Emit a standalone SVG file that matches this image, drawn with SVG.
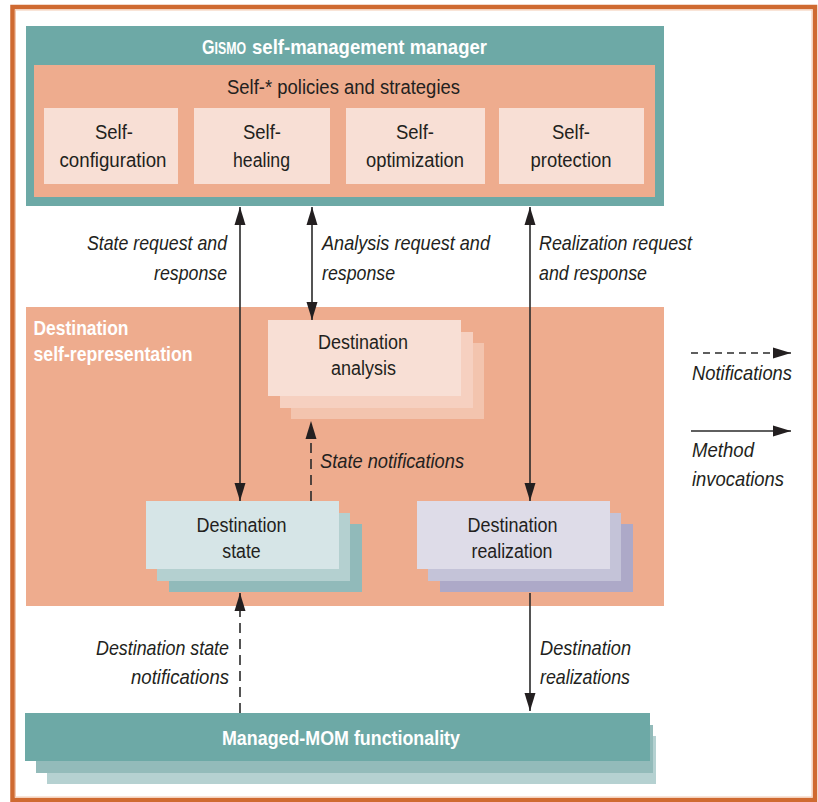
<svg xmlns="http://www.w3.org/2000/svg" width="818" height="802" viewBox="0 0 818 802">
<style>
.t{font-family:"Liberation Sans",Arial,sans-serif;fill:#231f20;font-size:20px}
.b{font-family:"Liberation Sans",Arial,sans-serif;fill:#ffffff;font-weight:bold;font-size:21px}
.i{font-family:"Liberation Sans",Arial,sans-serif;fill:#231f20;font-style:italic;font-size:21px}
.c{text-anchor:middle}
.e{text-anchor:end}
.ln{stroke:#2a2a2a;stroke-width:1.6;fill:none}
.d{stroke-dasharray:10 6}
.teal{fill:#6da9a6}
.salmon{fill:#eeac8e}
.pale{fill:#f8dfd5}
</style>
<defs>
<marker id="ah" markerUnits="userSpaceOnUse" markerWidth="19" markerHeight="12" refX="18" refY="6" orient="auto-start-reverse" viewBox="0 0 19 12">
<path d="M0,0.5 L18,6 L0,11.5 z" fill="#231f20" stroke="none"/>
</marker>
</defs>
<rect x="0" y="0" width="818" height="802" fill="#ffffff"/>
<g id="frame">
<rect x="12.5" y="7" width="802.5" height="793" fill="none" stroke="#cf6a31" stroke-width="4.5"/>
<rect x="15.5" y="10" width="796.5" height="787" fill="none" stroke="#f3c9b0" stroke-width="1"/>
</g>
<g id="manager">
<rect class="teal" x="26" y="26" width="638" height="180"/>
<text class="b" x="0" y="0" transform="translate(202,54) scale(0.77,1)" style="font-size:16px"><tspan style="font-size:21px">G</tspan>ISMO</text>
<text class="b" x="252" y="54" textLength="235" lengthAdjust="spacingAndGlyphs">self-management manager</text>
<rect class="salmon" x="34" y="65" width="621" height="132"/>
<text class="t c" x="343.5" y="94" textLength="233" lengthAdjust="spacingAndGlyphs">Self-* policies and strategies</text>
</g>
<g id="self-configuration">
<rect class="pale" x="44" y="108" width="134" height="76"/>
<text class="t c" x="114" y="139" textLength="38" lengthAdjust="spacingAndGlyphs">Self-</text>
<text class="t c" x="113" y="167" textLength="107" lengthAdjust="spacingAndGlyphs">configuration</text>
</g>
<g id="self-healing">
<rect class="pale" x="194" y="108" width="136" height="76"/>
<text class="t c" x="262" y="139" textLength="38" lengthAdjust="spacingAndGlyphs">Self-</text>
<text class="t c" x="261.5" y="167" textLength="57" lengthAdjust="spacingAndGlyphs">healing</text>
</g>
<g id="self-optimization">
<rect class="pale" x="346" y="108" width="139" height="76"/>
<text class="t c" x="415" y="139" textLength="38" lengthAdjust="spacingAndGlyphs">Self-</text>
<text class="t c" x="415" y="167" textLength="98" lengthAdjust="spacingAndGlyphs">optimization</text>
</g>
<g id="self-protection">
<rect class="pale" x="499" y="108" width="145" height="76"/>
<text class="t c" x="571" y="139" textLength="38" lengthAdjust="spacingAndGlyphs">Self-</text>
<text class="t c" x="571" y="167" textLength="81" lengthAdjust="spacingAndGlyphs">protection</text>
</g>
<g id="self-representation">
<rect class="salmon" x="26" y="307" width="638" height="299"/>
<text class="b" x="33.5" y="335" textLength="95" lengthAdjust="spacingAndGlyphs">Destination</text>
<text class="b" x="33.5" y="361" textLength="159" lengthAdjust="spacingAndGlyphs">self-representation</text>
</g>
<g id="destination-analysis">
<rect x="291" y="343" width="193" height="76" fill="#f3c4ae"/>
<rect x="280" y="332" width="193" height="76" fill="#f6d0c0"/>
<rect class="pale" x="268" y="320" width="193" height="76"/>
<text class="t c" x="363" y="349" textLength="90" lengthAdjust="spacingAndGlyphs">Destination</text>
<text class="t c" x="363.5" y="375" textLength="65" lengthAdjust="spacingAndGlyphs">analysis</text>
</g>
<g id="destination-state">
<rect x="169" y="524" width="193" height="68" fill="#91baba"/>
<rect x="157" y="513" width="193" height="68" fill="#b4d0d0"/>
<rect x="146" y="501" width="193" height="68" fill="#d6e5e7"/>
<text class="t c" x="241.5" y="532" textLength="90" lengthAdjust="spacingAndGlyphs">Destination</text>
<text class="t c" x="241.5" y="558" textLength="38.5" lengthAdjust="spacingAndGlyphs">state</text>
</g>
<g id="destination-realization">
<rect x="440" y="524" width="193" height="68" fill="#ada9c8"/>
<rect x="428" y="513" width="193" height="68" fill="#c4c3d8"/>
<rect x="417" y="501" width="193" height="68" fill="#dedce8"/>
<text class="t c" x="512.5" y="532" textLength="90" lengthAdjust="spacingAndGlyphs">Destination</text>
<text class="t c" x="512" y="558" textLength="81" lengthAdjust="spacingAndGlyphs">realization</text>
</g>
<g id="managed-mom">
<rect x="47" y="736" width="609" height="48" fill="#b5d1d1"/>
<rect x="36" y="725" width="617" height="48" fill="#93bbba"/>
<rect class="teal" x="25" y="713" width="625" height="48"/>
<text class="b c" x="341" y="745" textLength="238" lengthAdjust="spacingAndGlyphs">Managed-MOM functionality</text>
</g>
<g id="connectors">
<line class="ln" x1="240" y1="207" x2="240" y2="501" marker-start="url(#ah)" marker-end="url(#ah)"/>
<line class="ln" x1="312" y1="207" x2="312" y2="320" marker-start="url(#ah)" marker-end="url(#ah)"/>
<line class="ln" x1="530" y1="207" x2="530" y2="501" marker-start="url(#ah)" marker-end="url(#ah)"/>
<line class="ln d" x1="311" y1="501" x2="311" y2="421" marker-end="url(#ah)"/>
<line class="ln d" x1="240" y1="713" x2="240" y2="593" marker-end="url(#ah)"/>
<line class="ln" x1="530" y1="593" x2="530" y2="711" marker-end="url(#ah)"/>
</g>
<g id="labels">
<text class="i e" x="227" y="250" textLength="140" lengthAdjust="spacingAndGlyphs">State request and</text>
<text class="i e" x="227" y="280" textLength="73" lengthAdjust="spacingAndGlyphs">response</text>
<text class="i" x="322" y="250" textLength="168" lengthAdjust="spacingAndGlyphs">Analysis request and</text>
<text class="i" x="322" y="280" textLength="73" lengthAdjust="spacingAndGlyphs">response</text>
<text class="i" x="539" y="250" textLength="153" lengthAdjust="spacingAndGlyphs">Realization request</text>
<text class="i" x="539" y="280" textLength="108" lengthAdjust="spacingAndGlyphs">and response</text>
<text class="i" x="320" y="468" textLength="144" lengthAdjust="spacingAndGlyphs">State notifications</text>
<text class="i e" x="229" y="655" textLength="133" lengthAdjust="spacingAndGlyphs">Destination state</text>
<text class="i e" x="229" y="684" textLength="98" lengthAdjust="spacingAndGlyphs">notifications</text>
<text class="i" x="540" y="655" textLength="91" lengthAdjust="spacingAndGlyphs">Destination</text>
<text class="i" x="540" y="684" textLength="90" lengthAdjust="spacingAndGlyphs">realizations</text>
</g>
<g id="legend">
<line class="ln" x1="691" y1="353" x2="791" y2="353" stroke-dasharray="7 5" marker-end="url(#ah)"/>
<text class="i" x="692" y="380" textLength="100" lengthAdjust="spacingAndGlyphs">Notifications</text>
<line class="ln" x1="691" y1="431" x2="791" y2="431" marker-end="url(#ah)"/>
<text class="i" x="692" y="457" textLength="62" lengthAdjust="spacingAndGlyphs">Method</text>
<text class="i" x="692" y="486" textLength="92" lengthAdjust="spacingAndGlyphs">invocations</text>
</g>
</svg>
